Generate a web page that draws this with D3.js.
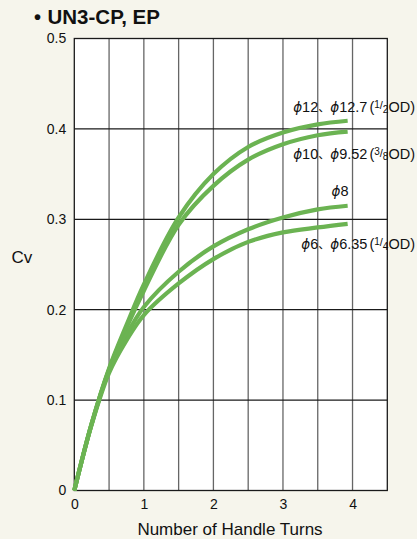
<!DOCTYPE html>
<html><head><meta charset="utf-8">
<script src="https://cdn.jsdelivr.net/npm/d3@7"></script>
<style>
html,body{margin:0;padding:0;background:#f6f5ec;}
svg{display:block;}
text{font-family:"Liberation Sans",Arial,Helvetica,sans-serif;fill:#111;}
</style></head>
<body><svg id="chart" width="417" height="539"></svg>
<script>
const title = "UN3-CP, EP";
const yLabel = "Cv";
const xLabel = "Number of Handle Turns";
const xTicks = [0, 1, 2, 3, 4];
const yTicks = [0, 0.1, 0.2, 0.3, 0.4, 0.5];
const turns = [0, 0.25, 0.5, 0.75, 1, 1.5, 2, 2.5, 3, 3.5, 3.93];
const cvPhi12 = [0, 0.074, 0.135, 0.183, 0.228, 0.302, 0.350, 0.380, 0.396, 0.405, 0.409];
const cvPhi10 = [0, 0.074, 0.134, 0.180, 0.221, 0.294, 0.337, 0.366, 0.383, 0.393, 0.397];
const cvPhi8  = [0, 0.074, 0.133, 0.172, 0.203, 0.242, 0.270, 0.289, 0.302, 0.311, 0.315];
const cvPhi6  = [0, 0.073, 0.130, 0.166, 0.194, 0.229, 0.256, 0.275, 0.2855, 0.291, 0.295];
const seriesLabels = [
  {lead: "12", lead2: "12.7", num: "1", den: "2"},
  {lead: "10", lead2: "9.52", num: "3", den: "8"},
  {lead: "8"},
  {lead: "6", lead2: "6.35", num: "1", den: "4"}
];

const svg = d3.select("#chart");
const x = d3.scaleLinear().domain([0, 4.5]).range([74.3, 387.3]);
const y = d3.scaleLinear().domain([0, 0.5]).range([490.5, 38.5]);

svg.append("rect").attr("x", x(0)).attr("y", y(0.5))
  .attr("width", x(4.5) - x(0)).attr("height", y(0) - y(0.5)).attr("fill", "#fff");

svg.append("g").selectAll("line").data(d3.range(0.5, 4.5, 0.5)).join("line")
  .attr("x1", d => x(d)).attr("x2", d => x(d)).attr("y1", y(0)).attr("y2", y(0.5))
  .attr("stroke", "#666").attr("stroke-width", 1.3);
svg.append("g").selectAll("line").data(d3.range(0.1, 0.5, 0.1)).join("line")
  .attr("x1", x(0)).attr("x2", x(4.5)).attr("y1", d => y(d)).attr("y2", d => y(d))
  .attr("stroke", "#1a1a1a").attr("stroke-width", 1.2);
svg.append("rect").attr("x", x(0)).attr("y", y(0.5))
  .attr("width", x(4.5) - x(0)).attr("height", y(0) - y(0.5))
  .attr("fill", "none").attr("stroke", "#1a1a1a").attr("stroke-width", 1.3);

const xAxis = svg.append("g").attr("transform", `translate(0,${y(0)})`)
  .call(d3.axisBottom(x).tickValues(xTicks).tickFormat(d3.format("d")).tickSize(0).tickPadding(9));
const yAxis = svg.append("g").attr("transform", `translate(${x(0)},0)`)
  .call(d3.axisLeft(y).tickValues(yTicks).tickFormat(d => d === 0 ? "0" : d3.format(".1f")(d)).tickSize(0).tickPadding(8));
[xAxis, yAxis].forEach(g => {
  g.select(".domain").remove();
  g.selectAll("text").attr("font-size", 14).attr("fill", "#111")
    .attr("font-family", "'Liberation Sans',Arial,sans-serif");
});

const line = d3.line().x(d => x(d[0])).y(d => y(d[1])).curve(d3.curveCatmullRom.alpha(0.5));
[cvPhi12, cvPhi10, cvPhi8, cvPhi6].forEach(vals => {
  svg.append("path").datum(turns.map((t, i) => [t, vals[i]]))
    .attr("d", line).attr("fill", "none").attr("stroke", "#6bb352")
    .attr("stroke-width", 4.2).attr("stroke-linecap", "butt");
});

const labelPos = [
  {x: 415, y: 111.5},
  {x: 415, y: 159},
  {x: 348.5, y: 195.5},
  {x: 415, y: 248.5}
];
const phiFont = "'DejaVu Sans',sans-serif";
seriesLabels.forEach((s, i) => {
  const t = svg.append("text").attr("x", labelPos[i].x).attr("y", labelPos[i].y)
    .attr("text-anchor", "end").attr("font-size", 14.5);
  t.append("tspan").attr("font-style", "italic").attr("font-family", phiFont).attr("font-size", 13.5).text("ϕ");
  t.append("tspan").text(s.lead);
  if (s.lead2) {
    t.append("tspan").attr("font-family", "'Noto Sans CJK JP',sans-serif").attr("font-size", 12).text("、");
    t.append("tspan").attr("font-style", "italic").attr("font-family", phiFont).attr("font-size", 13.5).text("ϕ");
    t.append("tspan").text(s.lead2);
    t.append("tspan").attr("dx", 2).text("(");
    t.append("tspan").attr("font-size", 10).attr("dy", -4).text(s.num);
    t.append("tspan").attr("font-size", 11).attr("dy", 1.5).text("/");
    t.append("tspan").attr("font-size", 10).attr("dy", 3.5).text(s.den);
    t.append("tspan").attr("dy", -1).text("OD)");
  }
});

svg.append("text").attr("x", 34).attr("y", 23.5).attr("font-size", 20).attr("font-weight", "bold").text("•");
svg.append("text").attr("x", 47.5).attr("y", 23.5).attr("font-size", 20.5).attr("font-weight", "bold").text(title);
svg.append("text").attr("x", 11.5).attr("y", 263).attr("font-size", 17).text(yLabel);
svg.append("text").attr("x", 230).attr("y", 535).attr("text-anchor", "middle").attr("font-size", 17).text(xLabel);
</script></body></html>
